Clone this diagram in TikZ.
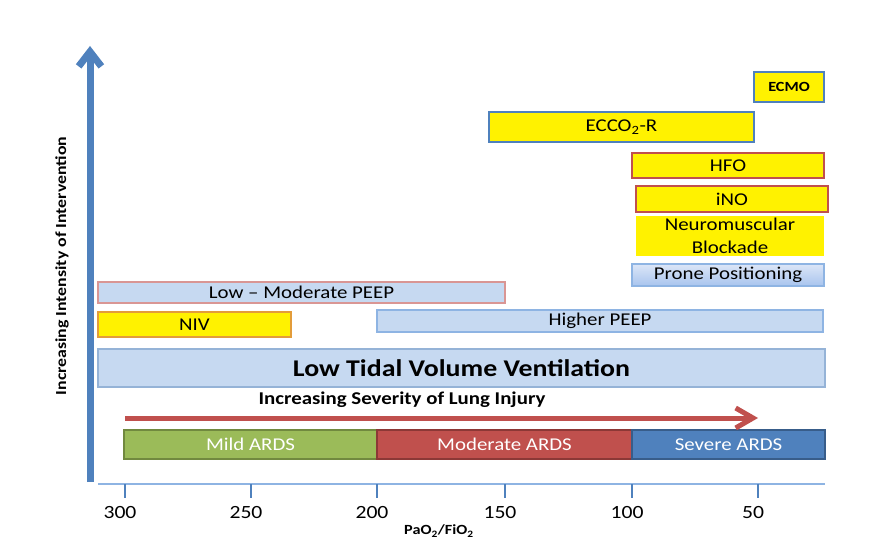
\documentclass[tikz,border=0pt]{standalone}
\usepackage{fontspec}
\setmainfont{Carlito}[FakeStretch=1.16]
\usetikzlibrary{arrows.meta}
\definecolor{axblue}{HTML}{4F81BD}
\definecolor{axlight}{HTML}{8EB4E3}
\definecolor{lblue}{HTML}{C6D9F1}
\definecolor{lbord}{HTML}{95B3D7}
\definecolor{rbord}{HTML}{C0504D}
\definecolor{ored}{HTML}{C0504D}
\definecolor{ygreen}{HTML}{9BBB59}
\definecolor{gbord}{HTML}{71893F}
\definecolor{mbord}{HTML}{8C3836}
\definecolor{sbord}{HTML}{385D8A}
\definecolor{nivbord}{HTML}{E39C3A}
\definecolor{ybord}{HTML}{4F81BD}
\definecolor{proneA}{HTML}{DCE6F7}
\definecolor{proneB}{HTML}{A8C4EE}
\newcommand\mybar[7]{\node[#6, minimum width={(#4-#2)*0.75pt}, minimum height={(#5-#3)*0.75pt}] (#1) at ({(#2+#4)/2},{(#3+#5)/2}) {#7};}
\tikzset{
  bar/.style={inner sep=0pt, line width=1.1pt, font=\fontsize{13.5}{15}\selectfont},
  bluebar/.style={bar, draw=lbord, fill=lblue},
  yelbar/.style={bar, fill=yellow},
  ards/.style={bar, line width=1.5pt, text=white},
  tick/.style={draw=axblue, line width=1.5pt},
  ticklab/.style={font=\fontsize{14}{16}\selectfont},
}
\begin{document}
\begin{tikzpicture}[x=0.75pt,y=-0.75pt]
\useasboundingbox[fill=white] (0,0) rectangle (882,552);

% y axis arrow
\coordinate (ybot) at (90,482);
\coordinate (ytop) at (90,46);
\draw[axblue, line width=5.25pt, -{Straight Barb[length=11pt,width=17pt]}] (ybot) -- (ytop);
\node[rotate=90, font=\bfseries\fontsize{11.5}{13}\selectfont] (ylab) at (62,266) {Increasing Intensity of Intervention};

% x axis
\coordinate (xl) at (98,484);
\coordinate (xr) at (825,484);
\draw[axlight, line width=1.5pt] (xl) -- (xr);
\foreach \v/\x in {300/125,250/251,200/377,150/505,100/632,50/758}{
  \coordinate (t\v) at (\x,484);
  \coordinate (tb\v) at (\x,498);
  \draw[tick] (t\v) -- (tb\v);
  \node[ticklab] (l\v) at (\x-5,513) {\v};
}
\node[font=\bfseries\fontsize{10.5}{12}\selectfont] (pao) at (439,531) {PaO\textsubscript{2}/FiO\textsubscript{2}};

% ARDS bars
\mybar{mild}{124}{430}{377}{459}{ards, draw=gbord, fill=ygreen}{Mild ARDS}
\mybar{mod}{377}{430}{632}{459}{ards, draw=mbord, fill=ored}{Moderate ARDS}
\mybar{sev}{632}{430}{825}{459}{ards, draw=sbord, fill=axblue}{Severe ARDS}

% severity arrow
\coordinate (sl) at (125,418);
\coordinate (sr) at (758,418);
\draw[ored, line width=3.75pt, -{Straight Barb[length=13pt,width=15pt]}] (sl) -- (sr);
\node[font=\bfseries\fontsize{13.5}{15}\selectfont] (sevlab) at (402,400) {Increasing Severity of Lung Injury};

% intervention bars
\mybar{ltv}{98}{349}{825}{387}{bluebar, font=\bfseries\fontsize{18}{20}\selectfont}{Low Tidal Volume Ventilation}
\mybar{niv}{98}{312}{291}{337}{yelbar, draw=nivbord}{NIV}
\mybar{hpeep}{377}{310}{823}{332}{bluebar, draw=axlight}{Higher PEEP}
\mybar{lpeep}{98}{282}{505}{303}{bluebar, draw=rbord!60}{Low -- Moderate PEEP}
\mybar{prone}{632}{264}{824}{286}{bar, draw=axlight, top color=proneA, bottom color=proneB}{Prone Positioning}
\mybar{nmb}{636}{216}{824}{256}{yelbar, align=center, font=\fontsize{13.5}{17}\selectfont}{Neuromuscular\\Blockade}
\mybar{ino}{636}{186}{828}{212}{yelbar, draw=rbord}{iNO}
\mybar{hfo}{632}{153}{824}{178}{yelbar, draw=rbord}{HFO}
\mybar{ecco}{489}{112}{754}{142}{yelbar, draw=ybord}{ECCO\textsubscript{2}-R}
\mybar{ecmo}{754}{72}{824}{102}{yelbar, draw=ybord, font=\bfseries\fontsize{10.5}{12}\selectfont}{ECMO}
\end{tikzpicture}
\end{document}
